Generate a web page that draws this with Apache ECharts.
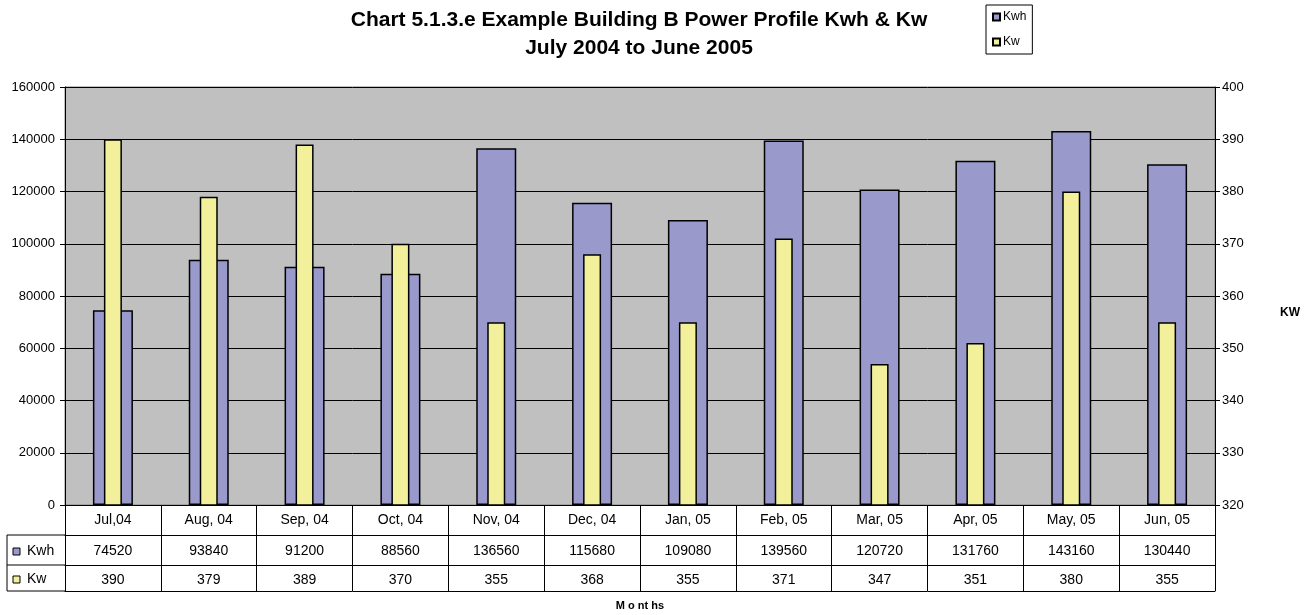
<!DOCTYPE html>
<html>
<head>
<meta charset="utf-8">
<script src="https://cdn.jsdelivr.net/npm/echarts@6/dist/echarts.min.js"></script>
<style>
  html, body { margin: 0; padding: 0; background: #fff; overflow: hidden; }
  #chart-container { width: 1312px; height: 615px; }
</style>
</head>
<body>
<div id="chart-container"></div>
<script>
// months across the bottom
var months = ['Jul,04', 'Aug, 04', 'Sep, 04', 'Oct, 04', 'Nov, 04', 'Dec, 04',
              'Jan, 05', 'Feb, 05', 'Mar, 05', 'Apr, 05', 'May, 05', 'Jun, 05'];
// energy (left axis)
var kwh = [74520, 93840, 91200, 88560, 136560, 115680, 109080, 139560, 120720, 131760, 143160, 130440];
// demand (right axis)
var kw = [390, 379, 389, 370, 355, 368, 355, 371, 347, 351, 380, 355];

var font = 'Liberation Sans, Arial, sans-serif';
var purple = '#9999cc', yellow = '#f2f09a';

var myChart = echarts.init(document.getElementById('chart-container'));

// extra bottom axes used as rows of the data table
function tableAxis(values, offset, margin) {
    return {
        type: 'category',
        data: values || months,
        position: 'bottom',
        offset: offset,
        axisLine: { show: true, lineStyle: { color: '#000', width: 1 } },
        axisTick: { show: false },
        axisLabel: { show: !!values, margin: margin, color: '#000', fontFamily: font, fontSize: 14, interval: 0 },
        splitLine: { show: false }
    };
}

myChart.setOption({
    animation: false,
    textStyle: { fontFamily: font },
    title: {
        text: 'Chart 5.1.3.e Example Building B Power Profile Kwh & Kw\nJuly 2004 to June 2005',
        left: 634,
        top: 1,
        textAlign: 'center',
        textStyle: { fontFamily: font, fontSize: 21, fontWeight: 'bold', color: '#000', lineHeight: 28 }
    },
    legend: {
        data: ['Kwh', 'Kw'],
        orient: 'vertical',
        left: 986,
        top: 5,
        padding: [6, 6, 6, 6],
        itemGap: 13,
        itemWidth: 7,
        itemHeight: 7,
        icon: 'rect',
        borderColor: '#000',
        borderWidth: 1,
        textStyle: { fontFamily: font, fontSize: 12, color: '#000', padding: [0, 0, 0, -2] }
    },
    grid: {
        left: 65, top: 87, width: 1150, height: 418,
        outerBoundsMode: 'none',
        containLabel: false,
        show: true,
        backgroundColor: '#c0c0c0',
        borderColor: '#808080',
        borderWidth: 1
    },
    xAxis: [
        {
            type: 'category',
            data: months,
            position: 'bottom',
            axisLine: { lineStyle: { color: '#000', width: 1 } },
            axisTick: { show: true, length: 86, lineStyle: { color: '#000', width: 1 } },
            axisLabel: { margin: 8, color: '#000', fontFamily: font, fontSize: 14, interval: 0 }
        },
        { type: 'category', data: months, show: false },
        tableAxis(kwh, 30, 9),
        tableAxis(kw, 60, 8),
        Object.assign(tableAxis(null, 86, 0), {
            name: 'M o nt hs',
            nameLocation: 'middle',
            nameGap: 9,
            nameTextStyle: { fontFamily: font, fontSize: 11, fontWeight: 'bold', color: '#000' }
        })
    ],
    yAxis: [
        {
            type: 'value',
            min: 0, max: 160000, interval: 20000,
            axisLine: { show: true, lineStyle: { color: '#000', width: 1 } },
            axisTick: { show: true, length: 5, lineStyle: { color: '#000' } },
            axisLabel: { margin: 10, color: '#000', fontFamily: font, fontSize: 13, formatter: function (v) { return String(v); } },
            splitLine: { show: true, lineStyle: { color: '#000', width: 1 } }
        },
        {
            type: 'value',
            position: 'right',
            min: 320, max: 400, interval: 10,
            axisLine: { show: true, lineStyle: { color: '#000', width: 1 } },
            axisTick: { show: true, length: 5, lineStyle: { color: '#000' } },
            axisLabel: { margin: 7, color: '#000', fontFamily: font, fontSize: 13 },
            splitLine: { show: false }
        }
    ],
    graphic: [
        // right axis title
        { type: 'text', x: 1290, y: 313, style: { text: 'KW', fill: '#000', font: 'bold 12px ' + font, align: 'center', verticalAlign: 'middle' } },
        // left column of the data table
        { type: 'line', shape: { x1: 7, y1: 535, x2: 65, y2: 535 }, style: { stroke: '#000', lineWidth: 1 } },
        { type: 'line', shape: { x1: 7, y1: 565, x2: 65, y2: 565 }, style: { stroke: '#000', lineWidth: 1 } },
        { type: 'line', shape: { x1: 7, y1: 591, x2: 65, y2: 591 }, style: { stroke: '#000', lineWidth: 1 } },
        { type: 'line', shape: { x1: 7, y1: 535, x2: 7, y2: 591 }, style: { stroke: '#000', lineWidth: 1 } },
        { type: 'rect', shape: { x: 13, y: 548, width: 7, height: 7 }, style: { fill: purple, stroke: '#000', lineWidth: 1 } },
        { type: 'text', x: 27, y: 551, style: { text: 'Kwh', fill: '#000', font: '14px ' + font, verticalAlign: 'middle' } },
        { type: 'rect', shape: { x: 13, y: 576, width: 7, height: 7 }, style: { fill: yellow, stroke: '#000', lineWidth: 1 } },
        { type: 'text', x: 27, y: 579, style: { text: 'Kw', fill: '#000', font: '14px ' + font, verticalAlign: 'middle' } }
    ],
    series: [
        {
            name: 'Kwh',
            type: 'bar',
            xAxisIndex: 0,
            yAxisIndex: 0,
            barWidth: 40,
            data: kwh,
            itemStyle: { color: purple, borderColor: '#000', borderWidth: 1.5 }
        },
        {
            name: 'Kw',
            type: 'bar',
            xAxisIndex: 1,
            yAxisIndex: 1,
            barWidth: 18,
            data: kw,
            itemStyle: { color: yellow, borderColor: '#000', borderWidth: 1.5 }
        }
    ]
});
</script>
</body>
</html>
